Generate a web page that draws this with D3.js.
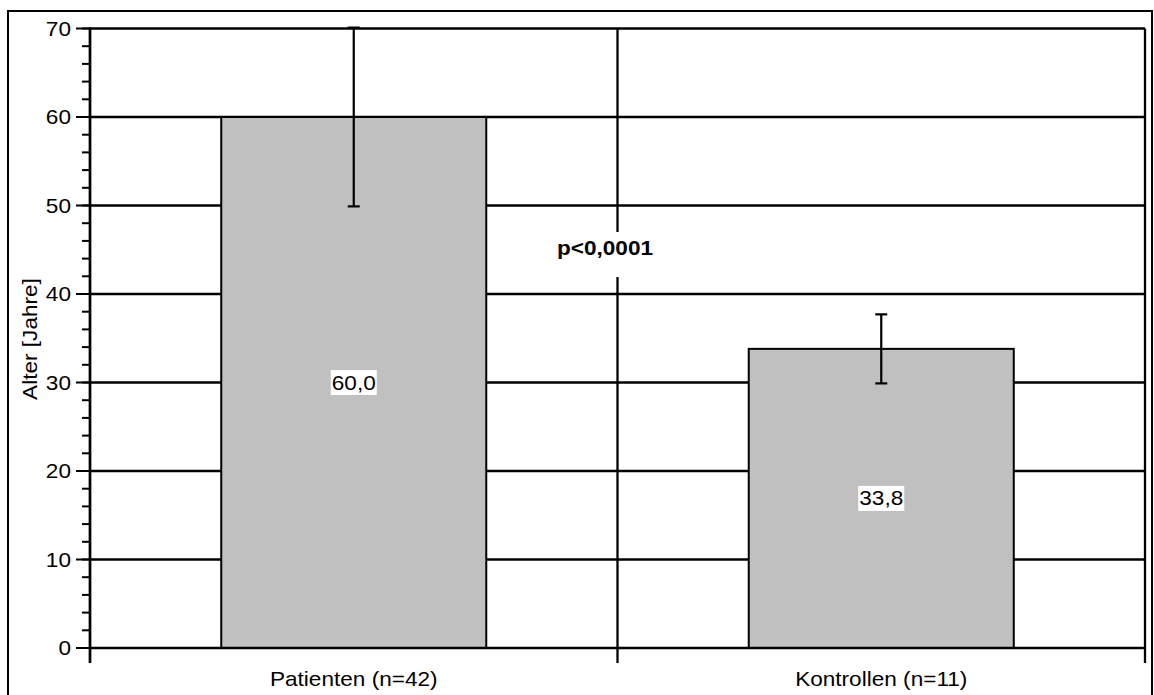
<!DOCTYPE html>
<html>
<head>
<meta charset="utf-8">
<script src="https://cdn.jsdelivr.net/npm/d3@7"></script>
<style>
  html, body { margin: 0; padding: 0; background: #fff; }
  svg { display: block; }
  text { font-family: "Liberation Sans", Arial, Helvetica, sans-serif; fill: #000; }
</style>
</head>
<body>
<script>
// Mean age per group with standard deviation
const categories = ["Patienten (n=42)", "Kontrollen (n=11)"];
const means = [60.0, 33.8];
const sds = [10.1, 3.9];
const valueLabels = ["60,0", "33,8"];
const yTicks = [0, 10, 20, 30, 40, 50, 60, 70];
const yMinorTicks = d3.range(0, 70.01, 2);
const yTitle = "Alter [Jahre]";
const pLabel = "p<0,0001";

const W = 1154, H = 695;
const plotLeft = 90, plotRight = 1145, plotTop = 28.5, plotBottom = 648;
const sx = 1.13; // horizontal widening of the lettering

const svg = d3.select("body").append("svg").attr("width", W).attr("height", H);

// outer frame
svg.append("rect")
  .attr("x", 8).attr("y", 11).attr("width", 1144).attr("height", 700)
  .attr("fill", "none").attr("stroke", "#000").attr("stroke-width", 2);

const y = d3.scaleLinear().domain([0, 70]).range([plotBottom, plotTop]);
const x = d3.scaleBand().domain(categories).range([plotLeft, plotRight])
  .paddingInner(0.4976).paddingOuter(0.2488);

const step = x.step();
const boundaries = [plotLeft, plotLeft + step, plotRight];

// horizontal gridlines
svg.append("g").selectAll("line").data(yTicks.filter(d => d > 0)).join("line")
  .attr("x1", plotLeft).attr("x2", plotRight)
  .attr("y1", d => y(d)).attr("y2", d => y(d))
  .attr("stroke", "#000").attr("stroke-width", 2.3);

// vertical gridlines at the category boundaries, with ticks below the axis
svg.append("g").selectAll("line").data(boundaries).join("line")
  .attr("x1", d => d).attr("x2", d => d)
  .attr("y1", plotTop).attr("y2", plotBottom + 15)
  .attr("stroke", "#000").attr("stroke-width", 2.3);

// p value label on a white box
const pg = svg.append("g");
pg.append("rect").attr("x", 550).attr("y", 232).attr("width", 112).attr("height", 45).attr("fill", "#fff");
pg.append("text")
  .attr("transform", `translate(605,255) scale(${sx},1)`)
  .attr("text-anchor", "middle").attr("font-size", 20).attr("font-weight", "bold")
  .text(pLabel);

// bars
svg.append("g").selectAll("rect").data(categories).join("rect")
  .attr("x", d => x(d)).attr("width", x.bandwidth())
  .attr("y", (d, i) => y(means[i])).attr("height", (d, i) => y(0) - y(means[i]))
  .attr("fill", "#c0c0c0").attr("stroke", "#000").attr("stroke-width", 2);

// error bars
const eb = svg.append("g").attr("stroke", "#000").attr("stroke-width", 2.2);
categories.forEach((c, i) => {
  const cx = x(c) + x.bandwidth() / 2;
  const lo = y(means[i] - sds[i]), hi = y(means[i] + sds[i]);
  eb.append("line").attr("x1", cx).attr("x2", cx).attr("y1", lo).attr("y2", hi);
  eb.append("line").attr("x1", cx - 6).attr("x2", cx + 6).attr("y1", lo).attr("y2", lo);
  eb.append("line").attr("x1", cx - 6).attr("x2", cx + 6).attr("y1", hi).attr("y2", hi);
});

// value labels in the middle of each bar
categories.forEach((c, i) => {
  const cx = x(c) + x.bandwidth() / 2;
  const cy = y(means[i] / 2);
  const g = svg.append("g");
  g.append("rect").attr("x", cx - 23).attr("y", cy - 12.5).attr("width", 46).attr("height", 25).attr("fill", "#fff");
  g.append("text")
    .attr("transform", `translate(${cx},${cy + 7}) scale(${sx},1)`)
    .attr("text-anchor", "middle").attr("font-size", 20)
    .text(valueLabels[i]);
});

// y axis: minor ticks, major ticks, line and labels
const ax = svg.append("g");
ax.selectAll("line.minor").data(yMinorTicks).join("line").attr("class", "minor")
  .attr("x1", plotLeft - 8).attr("x2", plotLeft).attr("y1", d => y(d)).attr("y2", d => y(d))
  .attr("stroke", "#000").attr("stroke-width", 2);
ax.selectAll("line.major").data(yTicks).join("line").attr("class", "major")
  .attr("x1", plotLeft - 14).attr("x2", plotLeft).attr("y1", d => y(d)).attr("y2", d => y(d))
  .attr("stroke", "#000").attr("stroke-width", 2);
ax.append("line").attr("x1", plotLeft).attr("x2", plotLeft).attr("y1", plotTop - 1).attr("y2", plotBottom + 15)
  .attr("stroke", "#000").attr("stroke-width", 2.5);
ax.selectAll("text").data(yTicks).join("text")
  .attr("transform", d => `translate(71,${y(d) + 7}) scale(${sx},1)`)
  .attr("text-anchor", "end").attr("font-size", 20)
  .text(d => d);

// x axis line and category labels
svg.append("line").attr("x1", plotLeft).attr("x2", plotRight).attr("y1", plotBottom).attr("y2", plotBottom)
  .attr("stroke", "#000").attr("stroke-width", 2.5);
svg.append("g").selectAll("text").data(categories).join("text")
  .attr("transform", d => `translate(${x(d) + x.bandwidth() / 2},686) scale(${sx},1)`)
  .attr("text-anchor", "middle").attr("font-size", 20)
  .text(d => d);

// y axis title
svg.append("text")
  .attr("transform", `translate(37,339) rotate(-90) scale(${sx},1)`)
  .attr("text-anchor", "middle").attr("font-size", 20)
  .text(yTitle);
</script>
</body>
</html>
